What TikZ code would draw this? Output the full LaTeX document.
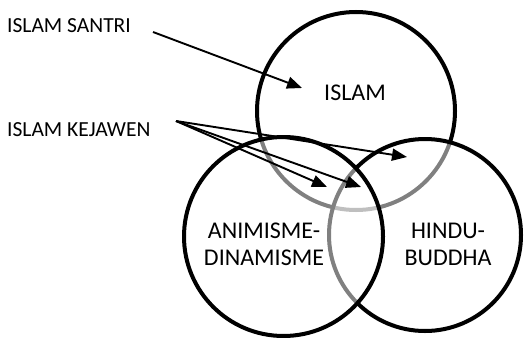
\documentclass[tikz,border=0pt]{standalone}
\usepackage{fontspec}
\setmainfont{Carlito}
\usetikzlibrary{arrows.meta}
\begin{document}
\begin{tikzpicture}[x=1pt,y=-1pt,
  ring/.style={line width=4pt, draw=black},
  veil/.style={ring, fill=white, fill opacity=0.5},
  pointer/.style={line width=1.9pt, -{Triangle[length=15pt,width=12pt]}},
  sidelabel/.style={font=\fontsize{21.5}{24}\selectfont, anchor=west, inner sep=0pt},
  inlabel/.style={font=\fontsize{24}{27}\selectfont, align=center, inner sep=0pt}]
\useasboundingbox (0,0) rectangle (526,337);
% circles
\draw[ring] (356,111) circle (99);
\draw[veil] (425,235) circle (96);
\draw[veil] (283.5,236.5) circle (99.5);
% labels
\node[sidelabel] (santri) at (7,26) {ISLAM SANTRI};
\node[sidelabel] (kejawen) at (7,130) {ISLAM KEJAWEN};
\node[inlabel] (islam) at (355,93) {ISLAM};
\node[inlabel] (anim) at (264,244) {ANIMISME-\\DINAMISME};
\node[inlabel] (hindu) at (448,244) {HINDU-\\BUDDHA};
% arrow ends
\coordinate (s0) at (153,32);
\coordinate (s1) at (302,88);
\coordinate (k0) at (176,121);
\coordinate (k1) at (327,187);
\coordinate (k2) at (361,187);
\coordinate (k3) at (407,157);
\draw[pointer] (s0) -- (s1);
\draw[pointer] (k0) -- (k1);
\draw[pointer] (k0) -- (k2);
\draw[pointer] (k0) -- (k3);
\end{tikzpicture}
\end{document}
